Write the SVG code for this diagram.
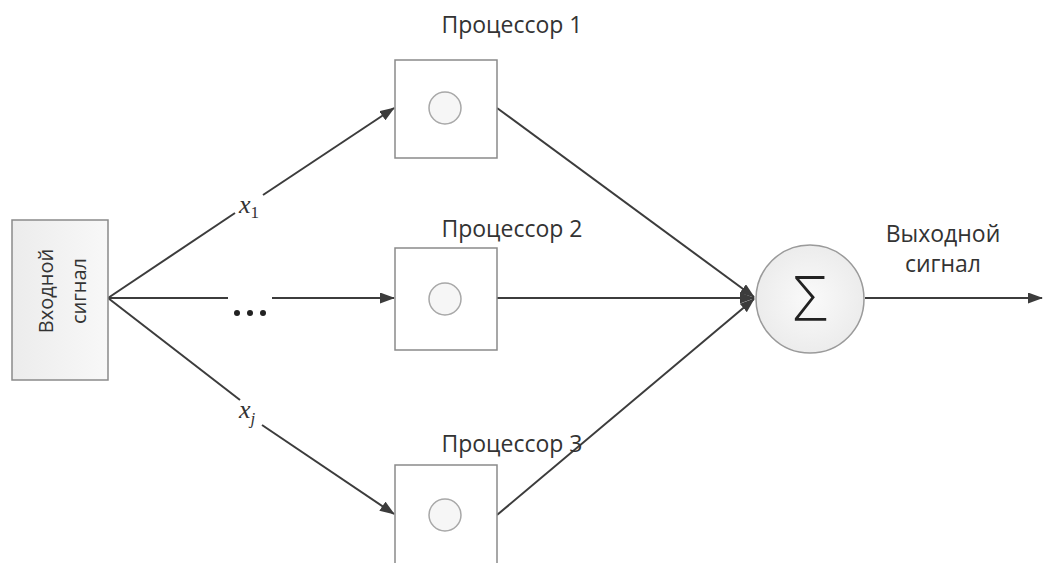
<svg xmlns="http://www.w3.org/2000/svg" width="1043" height="563" viewBox="0 0 1043 563">
<style>
.lbl{font-family:"Open Sans","Noto Sans",sans-serif;font-size:23px;fill:#333}
.vl{font-family:"Open Sans","Noto Sans",sans-serif;font-size:20px;fill:#333}
.box{fill:#fff;stroke:#8a8a8a;stroke-width:1.5}
.dot{fill:#f6f6f6;stroke:#a8a8a8;stroke-width:1.5}
.ln{stroke:#3c3c3c;stroke-width:2;fill:none}
.var{font-family:"Liberation Serif",serif;font-style:italic;font-size:26px;fill:#333}
.sub{font-family:"Liberation Serif",serif;font-size:17px;font-style:normal;fill:#333}
.subi{font-family:"Liberation Serif",serif;font-size:17px;font-style:italic;fill:#333}
</style>
<defs>
<marker id="ar" markerWidth="15" markerHeight="11" refX="14" refY="5.5" orient="auto" markerUnits="userSpaceOnUse">
<path d="M0,0 L15,5.5 L0,11 Z" fill="#3c3c3c"/>
</marker>
<linearGradient id="g1" x1="0" y1="0" x2="1" y2="0">
<stop offset="0" stop-color="#ececec"/><stop offset="1" stop-color="#f8f8f8"/>
</linearGradient>
<radialGradient id="g2" cx="0.5" cy="0.5" r="0.5">
<stop offset="0" stop-color="#fafafa"/><stop offset="1" stop-color="#ececec"/>
</radialGradient>
</defs>
<g id="connectors">
<line class="ln" x1="108" y1="298" x2="235" y2="213"/>
<line class="ln" x1="263" y1="195" x2="394" y2="108" marker-end="url(#ar)"/>
<line class="ln" x1="108" y1="298" x2="228" y2="298"/>
<line class="ln" x1="272" y1="298" x2="394" y2="298" marker-end="url(#ar)"/>
<line class="ln" x1="108" y1="298" x2="240" y2="400"/>
<line class="ln" x1="262" y1="425" x2="394" y2="514" marker-end="url(#ar)"/>
<line class="ln" x1="497" y1="108" x2="754" y2="297" marker-end="url(#ar)"/>
<line class="ln" x1="497" y1="298" x2="754" y2="298" marker-end="url(#ar)"/>
<line class="ln" x1="497" y1="515" x2="754" y2="299" marker-end="url(#ar)"/>
<line class="ln" x1="865" y1="298" x2="1042" y2="298" marker-end="url(#ar)"/>
<circle cx="237" cy="313" r="3" fill="#222"/>
<circle cx="250" cy="313" r="3" fill="#222"/>
<circle cx="263" cy="313" r="3" fill="#222"/>
<text class="var" x="239" y="213">x<tspan class="sub" dy="5">1</tspan></text>
<text class="var" x="239" y="418">x<tspan class="subi" dy="6">j</tspan></text>
</g>
<g id="input">
<rect x="12" y="220" width="96" height="160" fill="url(#g1)" stroke="#8a8a8a" stroke-width="1.5"/>
<text class="vl" transform="translate(53,291) rotate(-90)" text-anchor="middle">Входной</text>
<text class="vl" transform="translate(86,291) rotate(-90)" text-anchor="middle">сигнал</text>
</g>
<g id="proc1">
<rect class="box" x="395" y="60" width="102" height="98"/>
<circle class="dot" cx="445" cy="108" r="16"/>
<text class="lbl" x="512" y="33" text-anchor="middle">Процессор 1</text>
</g>
<g id="proc2">
<rect class="box" x="395" y="248" width="102" height="102"/>
<circle class="dot" cx="445" cy="299" r="16"/>
<text class="lbl" x="512" y="237" text-anchor="middle">Процессор 2</text>
</g>
<g id="proc3">
<rect class="box" x="395" y="465" width="102" height="110"/>
<circle class="dot" cx="445" cy="515" r="16"/>
<text class="lbl" x="512" y="452" text-anchor="middle">Процессор 3</text>
</g>
<g id="sum">
<circle cx="810" cy="299" r="54" fill="url(#g2)" stroke="#9a9a9a" stroke-width="1.5"/>
<text x="810" y="321" text-anchor="middle" font-family="'Open Sans',sans-serif" font-weight="300" font-size="62" fill="#222">Σ</text>
</g>
<g id="output">
<text class="lbl" x="943" y="242" text-anchor="middle">Выходной</text>
<text class="lbl" x="943" y="272" text-anchor="middle">сигнал</text>
</g>
</svg>
